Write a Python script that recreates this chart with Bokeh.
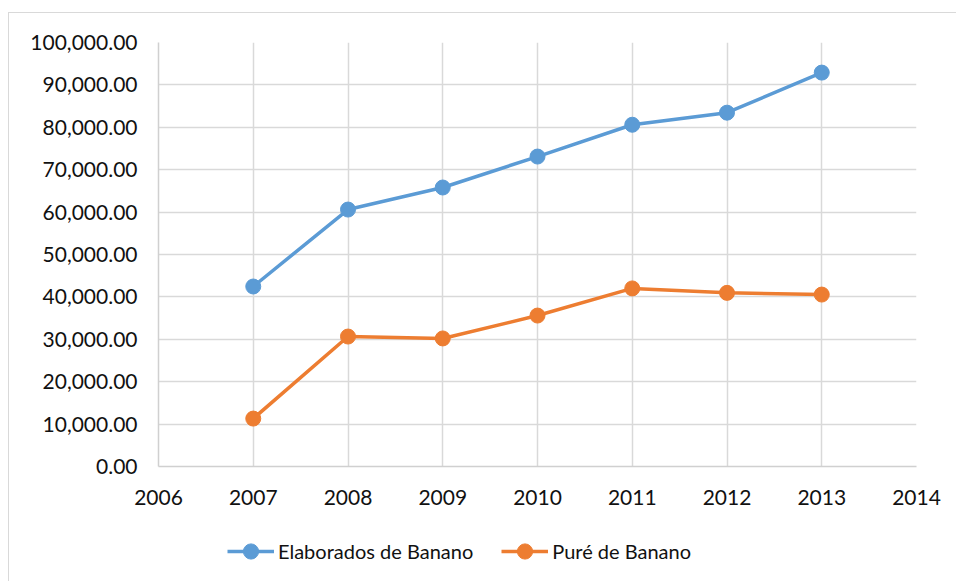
from bokeh.plotting import figure
from bokeh.layouts import column
from bokeh.models import Range1d, NumeralTickFormatter, FixedTicker, Legend, LegendItem
from bokeh.embed import file_html
from bokeh.resources import INLINE

years = [2007, 2008, 2009, 2010, 2011, 2012, 2013]
elaborados = [42450, 60600, 65800, 73100, 80600, 83450, 92900]
pure = [11300, 30650, 30200, 35600, 42000, 40950, 40550]
series_names = ["Elaborados de Banano", "Puré de Banano"]
x_ticks = [2006, 2007, 2008, 2009, 2010, 2011, 2012, 2013, 2014]
y_ticks = [0, 10000, 20000, 30000, 40000, 50000, 60000, 70000, 80000, 90000, 100000]

FONT = "Lato"
BLUE = "#5B9BD5"
ORANGE = "#ED7D31"
GRID = "#d9d9d9"

p = figure(width=947, height=507, output_backend="svg", toolbar_location=None,
           x_range=Range1d(2006, 2014), y_range=Range1d(0, 100000),
           min_border_left=149, min_border_right=40, min_border_top=29, min_border_bottom=54)
p.outline_line_color = None
p.background_fill_color = "white"
p.border_fill_color = "white"

for ax in (p.xaxis[0], p.yaxis[0]):
    ax.major_tick_line_color = None
    ax.minor_tick_line_color = None
    ax.axis_line_color = "#d0d0d0"
    ax.axis_line_width = 1.5
    ax.major_label_text_font = FONT
    ax.major_label_text_font_size = "21px"
    ax.major_label_text_color = "#111111"
    ax.major_label_text_font_style = "normal"

p.xaxis[0].ticker = FixedTicker(ticks=x_ticks)
p.yaxis[0].ticker = FixedTicker(ticks=y_ticks)
p.yaxis[0].formatter = NumeralTickFormatter(format="0,0.00")
p.xaxis[0].major_label_standoff = 17
p.yaxis[0].major_label_standoff = 15

p.xgrid.grid_line_color = GRID
p.ygrid.grid_line_color = GRID
p.xgrid.grid_line_width = 1.5
p.ygrid.grid_line_width = 1.5
p.xgrid.ticker = FixedTicker(ticks=x_ticks)
p.ygrid.ticker = FixedTicker(ticks=y_ticks)

# legend figure (its frame is aligned with the main frame by the column layout)
lf = figure(width=947, height=61, output_backend="svg", toolbar_location=None,
            x_axis_type=None, y_axis_type=None, x_range=Range1d(0, 1), y_range=Range1d(0, 1),
            min_border_left=0, min_border_right=0, min_border_top=0, min_border_bottom=0)
lf.outline_line_color = None
lf.xgrid.visible = False
lf.ygrid.visible = False

items = []
for vals, color, name in ((elaborados, BLUE, series_names[0]), (pure, ORANGE, series_names[1])):
    p.line(years, vals, line_color=color, line_width=3.5)
    p.scatter(years, vals, size=15, fill_color=color, line_color=color)
    dl = lf.line([-10, -9], [-10, -9], line_color=color, line_width=3.5)
    ds = lf.scatter([-10], [-10], size=15, fill_color=color, line_color=color)
    items.append(LegendItem(label=name, renderers=[dl, ds]))

legend = Legend(items=items, orientation="horizontal", location=(69, 11),
                border_line_color=None, background_fill_alpha=0,
                label_text_font=FONT, label_text_font_size="20px", label_text_color="#111111",
                glyph_width=47, glyph_height=38, label_standoff=4, spacing=28,
                margin=0, padding=0)
lf.add_layout(legend, "center")

layout = column(p, lf, spacing=0)
layout.styles = {"border-left": "1px solid #d9d9d9", "border-top": "1px solid #d9d9d9",
                 "margin": "12px 0 0 8px"}

open("out.html", "w").write(file_html(layout, INLINE))
